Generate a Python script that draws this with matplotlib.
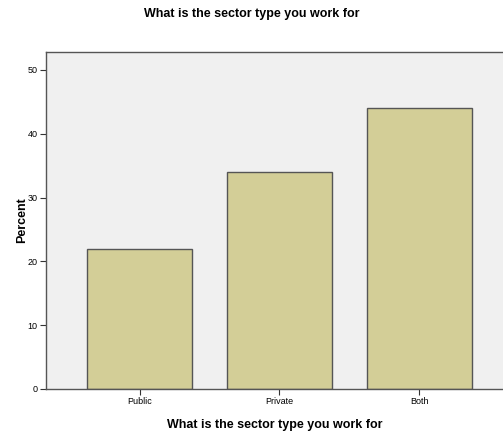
import matplotlib.pyplot as plt

categories = ['Public', 'Private', 'Both']
percent = [22, 34, 44]
y_ticks = [0, 10, 20, 30, 40, 50]

plt.rcParams['font.family'] = ['Liberation Sans', 'DejaVu Sans']

fig = plt.figure(figsize=(5.03, 4.36), dpi=100)
ax = fig.add_axes([0.0915, 0.1078, 0.9085, 0.7729])
ax.set_facecolor('#f0f0f0')

x = range(len(categories))
ax.bar(x, percent, width=0.75, color='#d3ce97', edgecolor='#555555', linewidth=1.0)

ax.set_xlim(-0.67, 2.6)
ax.set_ylim(0, 52.8)
ax.set_xticks(list(x))
ax.set_xticklabels(categories, fontsize=6.5)
ax.set_yticks(y_ticks)
ax.set_yticklabels([str(v) for v in y_ticks], fontsize=6.5)
ax.tick_params(length=4, width=0.8, color='#333333', pad=2)

for side in ['top', 'bottom', 'left']:
    ax.spines[side].set_color('#555555')
    ax.spines[side].set_linewidth(1.0)
ax.spines['right'].set_visible(False)

ax.set_xlabel('What is the sector type you work for', fontsize=9, fontweight='bold', labelpad=9)
ax.set_ylabel('Percent', fontsize=9, fontweight='bold', labelpad=0)
fig.suptitle('What is the sector type you work for', fontsize=9, fontweight='bold', y=0.982)

fig.savefig('out.png', dpi=100)
